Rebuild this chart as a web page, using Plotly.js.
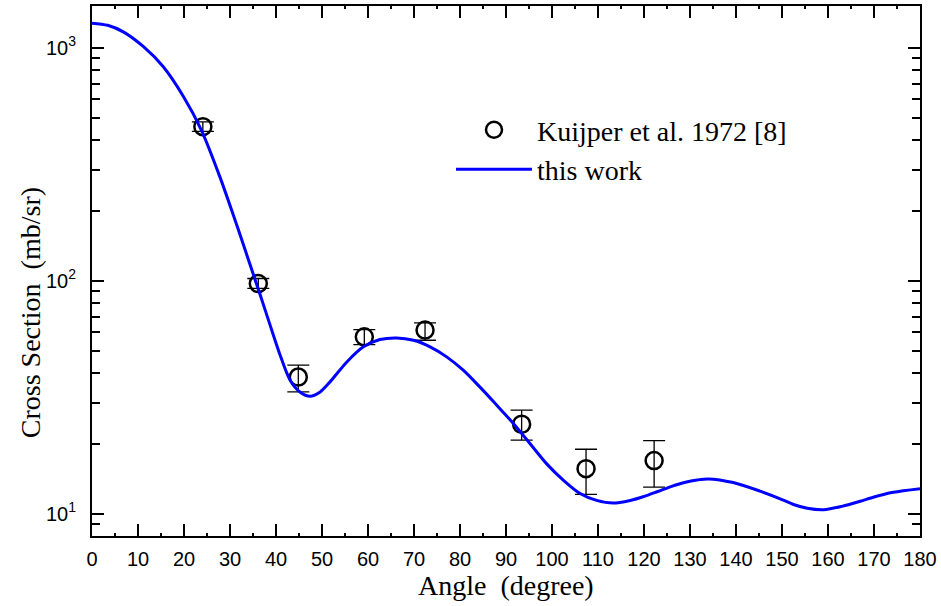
<!DOCTYPE html>
<html>
<head>
<meta charset="utf-8">
<script src="https://cdn.plot.ly/plotly-3.0.1.min.js"></script>
<style>html,body{margin:0;padding:0;background:#fff;}#chart{width:941px;height:606px;}</style>
</head>
<body>
<div id="chart"></div>
<script>
// Experimental data: Kuijper et al. 1972 [8]
const expAngle = [24.1, 36.15, 44.85, 59.2, 72.4, 93.4, 107.4, 122.2];
const expValue = [458, 97.2, 38.6, 57.4, 61.4, 24.2, 15.6, 16.9];
const expUpper = [480, 102.2, 43.4, 61.7, 65.9, 27.8, 18.9, 20.6];
const expLower = [437, 92.6, 33.3, 53.2, 55.5, 20.7, 12.1, 13.0];

// Calculated curve: this work
const calcAngle = [0, 3.4, 6.8, 11.2, 15.5, 19.9, 23.8, 27.8, 30.7, 32.9, 35.1, 36.5, 38.7, 40.9, 43.0, 45.2, 47.4, 49.6, 51.7, 55.4, 59.0, 62.6, 66.2, 69.9, 73.5, 77.1, 80.7, 84.3, 88.0, 91.6, 95.2, 98.8, 102.5, 106.1, 109.7, 113.3, 117.0, 120.0, 123.0, 126.0, 129.0, 131.5, 134.0, 139.4, 145.2, 150.0, 152.5, 155.5, 159.0, 163.0, 167.0, 170.0, 174.2, 180.0];
const calcValue = [1275, 1248, 1170, 1010, 828, 616, 442, 279, 192, 143, 106, 87.7, 64.6, 47.9, 37.6, 33.3, 31.9, 33.3, 36.7, 44.8, 52.0, 55.9, 56.8, 55.5, 52.0, 47.1, 41.3, 35.0, 29.2, 24.4, 20.0, 16.4, 13.9, 12.2, 11.4, 11.1, 11.4, 11.85, 12.45, 13.1, 13.65, 13.95, 14.1, 13.6, 12.5, 11.5, 10.95, 10.55, 10.4, 10.75, 11.3, 11.8, 12.35, 12.8];

const xTickVals = [0,10,20,30,40,50,60,70,80,90,100,110,120,130,140,150,160,170,180];
const yTickVals = [10, 100, 1000];

const serif = 'Liberation Serif, Times New Roman, serif';
const sans = 'Liberation Sans, Arial, sans-serif';

const traces = [
  {
    x: expAngle, y: expValue, type: 'scatter', mode: 'markers',
    name: 'Kuijper et al. 1972 [8]',
    marker: {symbol: 'circle-open', size: 17, color: '#000', line: {width: 2.5, color: '#000'}},
    error_y: {
      type: 'data', symmetric: false,
      array: expUpper.map((u, i) => u - expValue[i]),
      arrayminus: expLower.map((l, i) => expValue[i] - l),
      color: '#000', thickness: 1.3, width: 11
    }
  },
  {
    x: calcAngle, y: calcValue, type: 'scatter', mode: 'lines',
    name: 'this work',
    line: {color: '#0000ff', width: 3, shape: 'spline', smoothing: 0.8}
  }
];

const layout = {
  width: 941, height: 606,
  margin: {l: 92, r: 21, t: 6, b: 70},
  paper_bgcolor: '#fff', plot_bgcolor: '#fff',
  showlegend: true,
  legend: {
    x: (451 - 92) / 828, y: (535.7 - 105) / 529.7, xanchor: 'left', yanchor: 'top',
    bgcolor: 'rgba(0,0,0,0)', borderwidth: 0,
    font: {family: serif, size: 28, color: '#000'},
    itemwidth: 76, tracegroupgap: 0
  },
  xaxis: {
    range: [0, 180], tickvals: xTickVals, ticktext: xTickVals.map(String),
    ticks: 'inside', ticklen: 12, tickwidth: 2, tickcolor: '#000',
    minor: {ticks: 'inside', dtick: 5, ticklen: 3, tickwidth: 1.5, tickcolor: '#000'},
    showline: true, linewidth: 2, linecolor: '#000', mirror: 'allticks',
    showgrid: false, zeroline: false, ticklabelstandoff: 4,
    tickfont: {family: sans, size: 20, color: '#000'}
  },
  yaxis: {
    type: 'log', range: [Math.log10(8.02), 3.179],
    tickvals: yTickVals,
    ticktext: yTickVals.map(v => '10<sup>' + Math.round(Math.log10(v)) + '</sup>'),
    ticks: 'inside', ticklen: 12, tickwidth: 2, tickcolor: '#000',
    minor: {ticks: 'inside', dtick: 'D1', ticklen: 8, tickwidth: 2, tickcolor: '#000'},
    showline: true, linewidth: 2, linecolor: '#000', mirror: 'allticks',
    showgrid: false, zeroline: false, ticklabelstandoff: 10,
    tickfont: {family: sans, size: 20, color: '#000'}
  },
  annotations: [
    {text: 'Angle\u00a0\u00a0(degree)', xref: 'paper', yref: 'paper', x: 0.5, y: (535.7 - 585) / 529.7,
     xanchor: 'center', yanchor: 'middle', showarrow: false, font: {family: serif, size: 28, color: '#000'}},
    {text: 'Cross Section\u00a0\u00a0(mb/sr)', xref: 'paper', yref: 'paper', x: (30 - 92) / 828, y: (535.7 - 313) / 529.7,
     xanchor: 'center', yanchor: 'middle', textangle: -90, showarrow: false, font: {family: serif, size: 28, color: '#000'}}
  ]
};

Plotly.newPlot('chart', traces, layout, {staticPlot: true, displayModeBar: false});
</script>
</body>
</html>
